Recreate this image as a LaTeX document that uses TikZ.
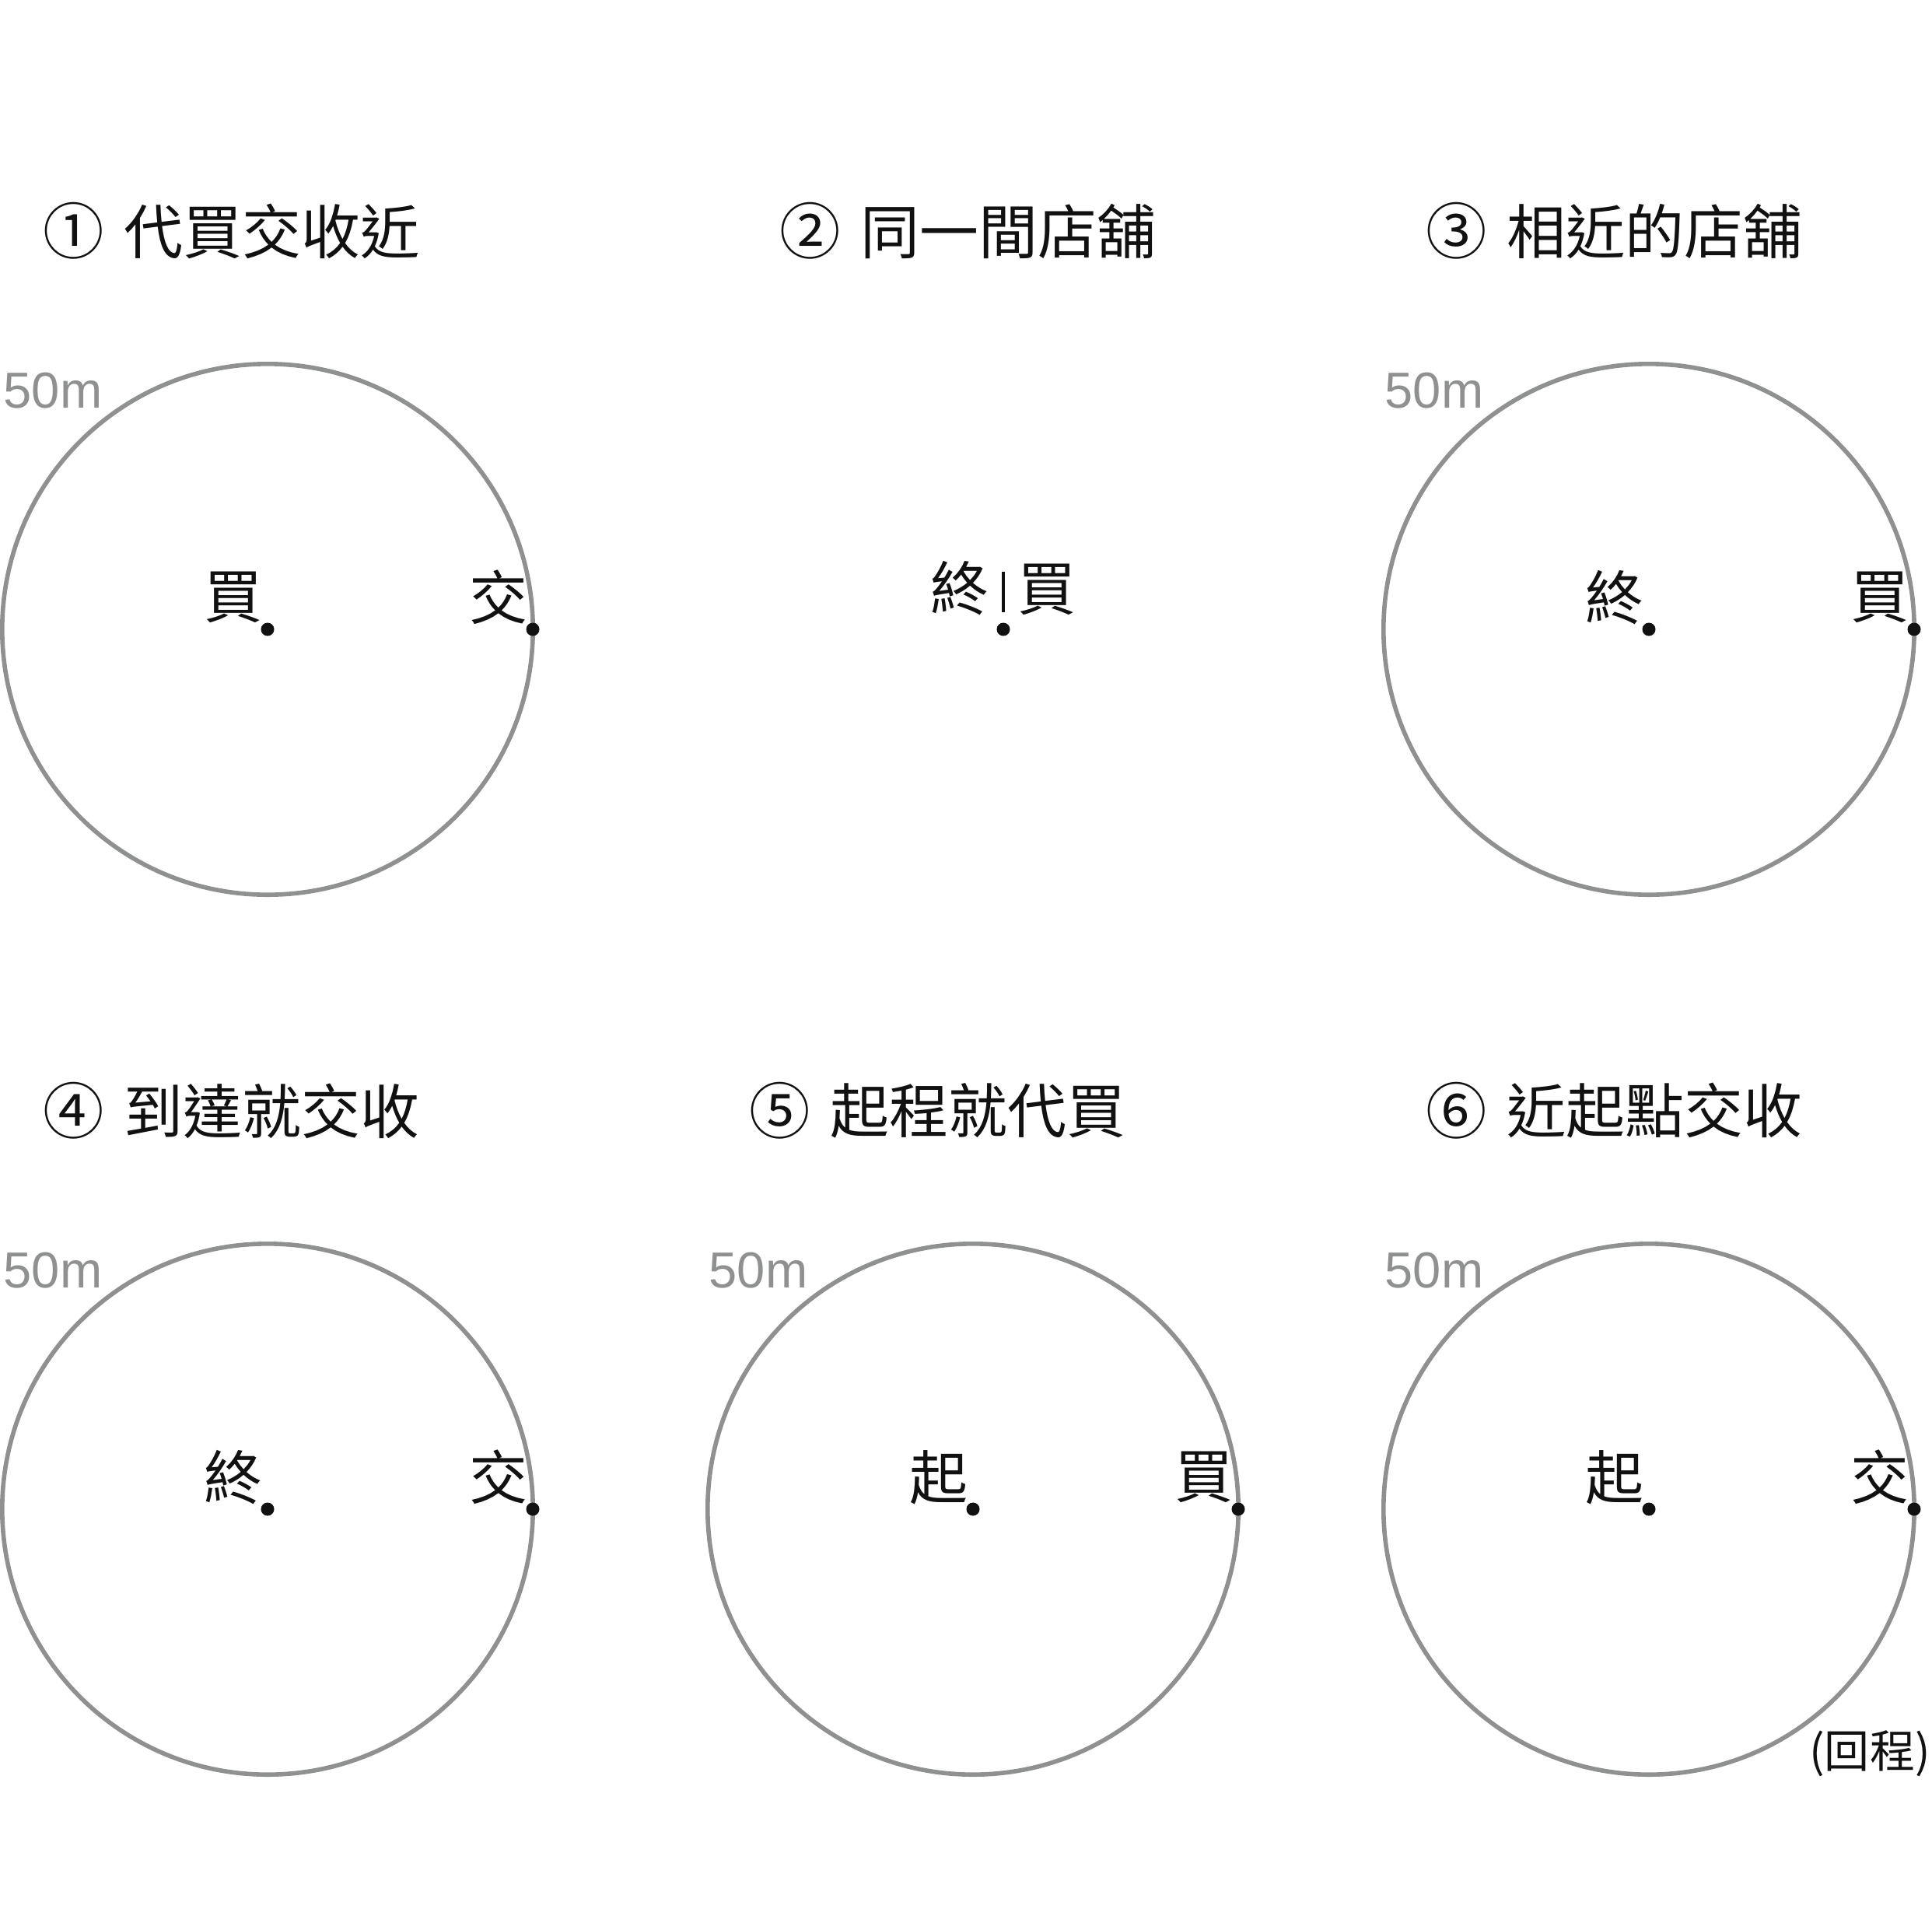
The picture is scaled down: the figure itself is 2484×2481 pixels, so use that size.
\documentclass[tikz,border=0pt]{standalone}
\usepackage{fontspec}
\usepackage{graphicx}
\setmainfont{Liberation Sans}
\newfontfamily\cjk{Noto Sans CJK TC}
\usetikzlibrary{calc}
\definecolor{ringgray}{RGB}{143,145,145}
\definecolor{ink}{RGB}{17,17,17}
\newcommand{\numglyph}[1]{\resizebox*{!}{0.73cm}{#1}}
\begin{document}
\begin{tikzpicture}[x=0.01cm,y=-0.01cm,
  ring/.style={draw=ringgray,line width=1.6pt},
  dotmark/.style={circle,fill=ink,inner sep=0pt,minimum size=0.17cm},
  numtag/.style={inner sep=0pt,text=ink,font=\cjk\fontsize{21.6pt}{25pt}\selectfont},
  title/.style={inner sep=0pt,anchor=west,text=ink,font=\cjk\fontsize{21.6pt}{25pt}\selectfont},
  lbl/.style={inner sep=0pt,text=ink,font=\cjk\fontsize{21.34pt}{25pt}\selectfont},
  dist/.style={inner sep=0pt,anchor=west,text=ringgray,font=\fontsize{18.5pt}{22pt}\selectfont},
  note/.style={inner sep=0pt,text=ink,font=\cjk\fontsize{16.5pt}{20pt}\selectfont}]
\useasboundingbox[fill=white] (0,0) rectangle (2484,2481);

% titles: circled number + text
\node[numtag] (n1) at (95,297) {\numglyph{①}};
\node[title] (t1) at ($(n1)+(64,0)$) {代買交收近};
\node[numtag] (n2) at (1042,297) {\numglyph{②}};
\node[title] (t2) at ($(n2)+(64,0)$) {同一間店舖};
\node[numtag] (n3) at (1873,297) {\numglyph{③}};
\node[title] (t3) at ($(n3)+(64,0)$) {相近的店舖};
\node[numtag] (n4) at (95,1428) {\numglyph{④}};
\node[title] (t4) at ($(n4)+(64,0)$) {到達就交收};
\node[numtag] (n5) at (1003,1428) {\numglyph{⑤}};
\node[title] (t5) at ($(n5)+(64,0)$) {起程就代買};
\node[numtag] (n6) at (1873,1428) {\numglyph{⑥}};
\node[title] (t6) at ($(n6)+(64,0)$) {近起點交收};

% circle centres
\coordinate (c1) at (344,809);
\coordinate (c3) at (2120,809);
\coordinate (c4) at (344,1940);
\coordinate (c5) at (1251,1940);
\coordinate (c6) at (2120,1940);

\foreach \c in {c1,c3,c4,c5,c6}{
  \draw[ring] (\c) circle[radius=3.41cm];
  \node[dist] (m\c) at ($(\c)+(-340,-307)$) {50m};
  \node[dotmark] (d\c) at (\c) {};
  \node[dotmark] (r\c) at ($(\c)+(341,0)$) {};
}

% labels
\node[lbl] (l1a) at ($(dc1)+(-44,-41)$) {買};
\node[lbl] (l1b) at ($(rc1)+(-44,-41)$) {交};
\node[lbl] (l3a) at ($(dc3)+(-44,-41)$) {終};
\node[lbl] (l3b) at ($(rc3)+(-44,-41)$) {買};
\node[lbl] (l4a) at ($(dc4)+(-44,-41)$) {終};
\node[lbl] (l4b) at ($(rc4)+(-44,-41)$) {交};
\node[lbl] (l5a) at ($(dc5)+(-44,-41)$) {起};
\node[lbl] (l5b) at ($(rc5)+(-44,-41)$) {買};
\node[lbl] (l6a) at ($(dc6)+(-44,-41)$) {起};
\node[lbl] (l6b) at ($(rc6)+(-44,-41)$) {交};

% panel 2
\node[dotmark] (d2) at (1290,809) {};
\node[lbl] (l2a) at ($(d2)+(-56,-53)$) {終};
\node[lbl] (l2b) at ($(d2)+(56,-51)$) {買};
\coordinate (b2top) at ($(d2)+(0,-74)$);
\coordinate (b2bot) at ($(d2)+(0,-22)$);
\draw[ink,line width=0.95pt] (b2top) -- (b2bot);

% note
\node[note] (n6note) at (2404,2254) {(回程)};
\end{tikzpicture}
\end{document}
